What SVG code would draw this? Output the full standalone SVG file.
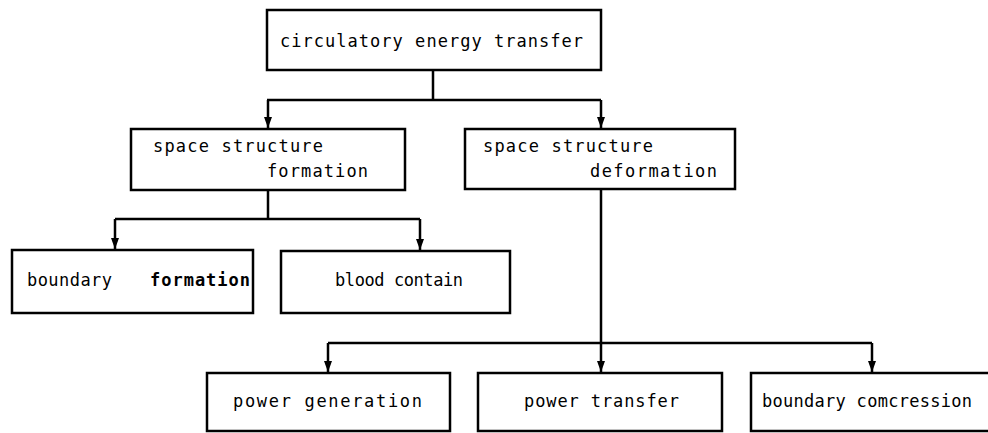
<svg xmlns="http://www.w3.org/2000/svg" width="988" height="433" viewBox="0 0 988 433">
<defs>
<marker id="arrD" markerUnits="userSpaceOnUse" markerWidth="10" markerHeight="12" refX="5" refY="11" orient="0" viewBox="0 0 10 12">
<path d="M1,0 L9,0 L5,11 Z" fill="#000"/>
</marker>
<style>
.box{fill:#fff;stroke:#000;stroke-width:2.5}
.con{fill:none;stroke:#000;stroke-width:2.5}
.t{font-family:"DejaVu Sans Mono","Liberation Mono",monospace;font-size:17px;fill:#000}
.b{font-weight:bold}
</style>
</defs>
<rect width="988" height="433" fill="#fff"/>
<g id="connectors">
<path class="con" d="M433,70 V100 M267,100 H601"/>
<path class="con" d="M268,190 V219 M115,219 H420"/>
<path class="con" d="M601,189 V343 M328,343 H872"/>
<path class="con" d="M268,100 V128" marker-end="url(#arrD)"/>
<path class="con" d="M601,100 V128" marker-end="url(#arrD)"/>
<path class="con" d="M115,219 V249" marker-end="url(#arrD)"/>
<path class="con" d="M420,219 V250" marker-end="url(#arrD)"/>
<path class="con" d="M328,343 V372" marker-end="url(#arrD)"/>
<path class="con" d="M601,343 V372" marker-end="url(#arrD)"/>
<path class="con" d="M872,343 V372" marker-end="url(#arrD)"/>
</g>
<g id="n-circulatory">
<rect class="box" x="267" y="10" width="334" height="60"/>
<text class="t" x="280" y="47" textLength="303" lengthAdjust="spacing">circulatory energy transfer</text>
</g>
<g id="n-formation">
<rect class="box" x="131" y="129" width="274" height="61"/>
<text class="t" x="153" y="152" textLength="170" lengthAdjust="spacing">space structure</text>
<text class="t" x="267" y="177" textLength="101" lengthAdjust="spacing">formation</text>
</g>
<g id="n-deformation">
<rect class="box" x="465" y="129" width="270" height="60"/>
<text class="t" x="483" y="152" textLength="170" lengthAdjust="spacing">space structure</text>
<text class="t" x="590" y="177" textLength="127" lengthAdjust="spacing">deformation</text>
</g>
<g id="n-boundary-formation">
<rect class="box" x="12" y="250" width="241" height="63"/>
<text class="t" x="27" y="286" textLength="85" lengthAdjust="spacing">boundary</text>
<text class="t b" x="150" y="286" textLength="100" lengthAdjust="spacing">formation</text>
</g>
<g id="n-blood">
<rect class="box" x="281" y="251" width="229" height="62"/>
<text class="t" x="335" y="286" textLength="128" lengthAdjust="spacing">blood contain</text>
</g>
<g id="n-power-generation">
<rect class="box" x="207" y="373" width="243" height="58"/>
<text class="t" x="233" y="407" textLength="189" lengthAdjust="spacing">power generation</text>
</g>
<g id="n-power-transfer">
<rect class="box" x="478" y="373" width="244" height="58"/>
<text class="t" x="524" y="407" textLength="155" lengthAdjust="spacing">power transfer</text>
</g>
<g id="n-boundary-compression">
<rect class="box" x="751" y="373" width="245" height="58"/>
<text class="t" x="762" y="407" textLength="210" lengthAdjust="spacing">boundary comcression</text>
</g>
</svg>
